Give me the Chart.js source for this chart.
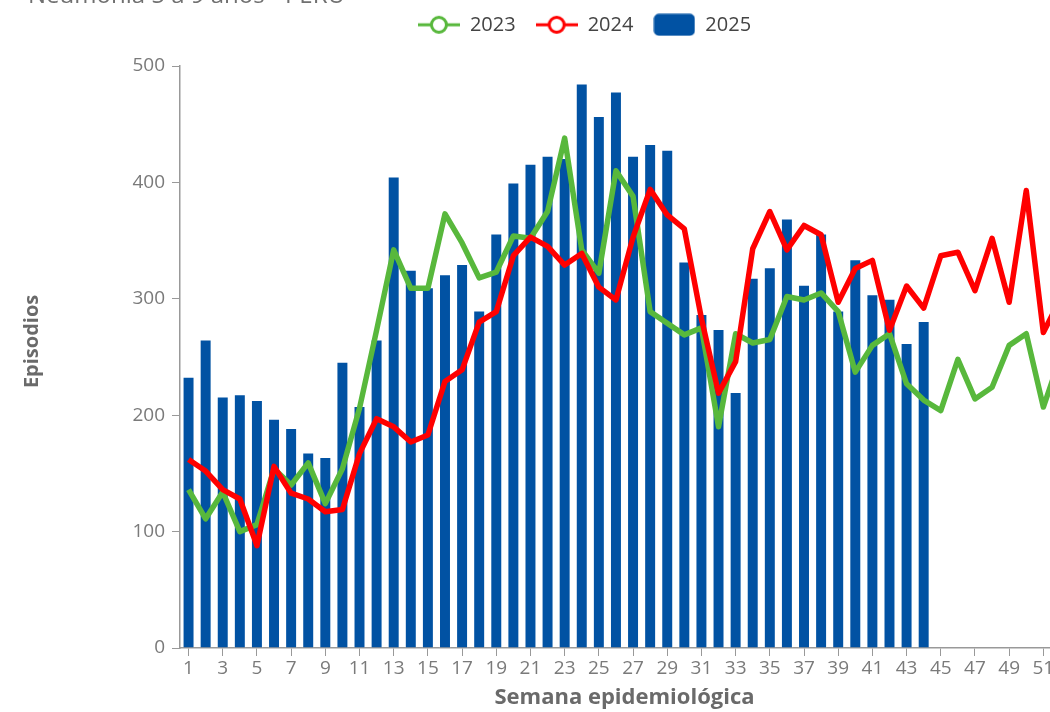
<!DOCTYPE html>
<html><head><meta charset="utf-8">
<script src="https://cdn.jsdelivr.net/npm/chart.js@4/dist/chart.umd.min.js"></script>
<style>
html,body{margin:0;padding:0;background:#fff;width:1050px;height:712px;overflow:hidden}
#wrap{position:absolute;left:0;top:-26px;width:1100px;height:738px}
canvas{display:block}
</style></head>
<body><div id="wrap"><canvas id="c" width="1100" height="738" style="width:1100px;height:738px"></canvas></div>
<script>
const titleText = 'Neumonía 5 a 9 años - PERÚ';
const weeks = ['1','2','3','4','5','6','7','8','9','10','11','12','13','14','15','16','17','18','19','20','21','22','23','24','25','26','27','28','29','30','31','32','33','34','35','36','37','38','39','40','41','42','43','44','45','46','47','48','49','50','51','52'];
const yTicks = [0,100,200,300,400,500];
const cases2023 = [136,111,134,100,106,154,140,159,124,154,206,273,342,309,309,373,348,318,323,354,352,375,438,342,322,410,388,289,279,269,275,190,270,262,265,302,299,305,289,237,260,270,227,213,204,248,214,224,260,270,207,250];
const cases2024 = [162,152,136,128,88,156,133,128,117,119,167,197,190,177,183,229,239,280,289,337,353,345,329,339,310,299,353,394,372,360,283,219,246,343,375,342,363,355,297,326,333,273,311,292,337,340,307,352,297,393,271,300];
const cases2025 = [233,265,216,218,213,197,189,168,164,246,208,265,405,325,310,321,330,290,356,400,416,423,421,485,457,478,423,433,428,332,287,274,220,318,327,369,312,356,290,334,304,300,262,281];

const GREEN = '#58b83c', RED = '#ff0000', BLUE = '#0152a3';

function lineIcon(color){
  const c=document.createElement('canvas'); c.width=42; c.height=22;
  const g=c.getContext('2d');
  g.strokeStyle=color; g.lineWidth=3;
  g.beginPath(); g.moveTo(0,11); g.lineTo(42,11); g.stroke();
  g.beginPath(); g.arc(21,11,7.5,0,Math.PI*2); g.fillStyle='#fff'; g.fill(); g.stroke();
  return c;
}
function rectIcon(color){
  const c=document.createElement('canvas'); c.width=42; c.height=23;
  const g=c.getContext('2d');
  g.fillStyle=color; g.beginPath(); g.roundRect(0.5,0.5,41,22,5); g.fill();
  return c;
}
const blank=document.createElement('canvas'); blank.width=1; blank.height=1;
const icons=[lineIcon(GREEN), lineIcon(RED), rectIcon(BLUE)];

Chart.defaults.font.family='"Open Sans", "Noto Sans", sans-serif';

new Chart(document.getElementById('c'), {
  type:'bar',
  data:{
    labels: weeks,
    datasets:[
      {type:'line', label:'2023', data:cases2023, borderColor:GREEN, backgroundColor:GREEN, borderWidth:5.5, pointRadius:0, tension:0, borderJoinStyle:'round', order:1},
      {type:'line', label:'2024', data:cases2024, borderColor:RED, backgroundColor:RED, borderWidth:5.5, pointRadius:0, tension:0, borderJoinStyle:'round', order:0},
      {type:'bar', label:'2025', data:cases2025, backgroundColor:BLUE, borderColor:'rgba(255,255,255,0.35)', borderWidth:1, barPercentage:0.7, categoryPercentage:1, order:2}
    ]
  },
  options:{
    responsive:false, animation:false, devicePixelRatio:1,
    layout:{padding:{left:28, right:31, top:0, bottom:0}},
    plugins:{
      title:{display:true, text:titleText, align:'start', color:'#707070', font:{size:24, weight:'normal'}, padding:{top:8, bottom:-16}},
      subtitle:{display:true, text:'', weight:500, font:{size:10}, padding:{top:9.2, bottom:0}},
      legend:{
        display:true, position:'top', align:'center',
        labels:{
          usePointStyle:true, pointStyleWidth:42, padding:20, color:'#444', font:{size:20},
          generateLabels:(chart)=>{
            const items=Chart.defaults.plugins.legend.labels.generateLabels(chart);
            items.sort((a,b)=>a.datasetIndex-b.datasetIndex);
            items.forEach(it=>{ it.pointStyle=icons[it.datasetIndex]; });
            return [{text:'', pointStyle:blank, fillStyle:'rgba(0,0,0,0)', strokeStyle:'rgba(0,0,0,0)', lineWidth:0, hidden:false}].concat(items);
          }
        }
      },
      tooltip:{enabled:false}
    },
    scales:{
      x:{
        offset:true,
        grid:{display:true, offset:false, drawOnChartArea:false, drawTicks:true, tickLength:8, color:'#999'},
        border:{display:true, color:'#999', width:1.5},
        ticks:{autoSkip:false, maxRotation:0, minRotation:0, padding:1, color:'#7a7a7a', font:{size:19},
          callback:function(v,i){ return i%2===0 ? weeks[i] : null; }},
        title:{display:true, text:'Semana epidemiológica', color:'#6a6a6a', font:{size:22, weight:'bold'}, padding:{top:0, bottom:1}},
        afterFit:(s)=>{ s.height=64; }
      },
      y:{
        min:0, max:500,
        afterBuildTicks:(s)=>{ s.ticks=yTicks.map(v=>({value:v})); },
        grid:{display:true, drawOnChartArea:false, drawTicks:true, tickLength:8, color:'#999'},
        border:{display:true, color:'#999', width:1.5},
        ticks:{padding:7, color:'#7a7a7a', font:{size:19}},
        title:{display:true, text:'      Episodios', color:'#6a6a6a', font:{size:20, weight:'bold'}, padding:{top:-8, bottom:0}},
        afterFit:(s)=>{ s.width=152; }
      }
    }
  }
});
</script>
</body></html>
